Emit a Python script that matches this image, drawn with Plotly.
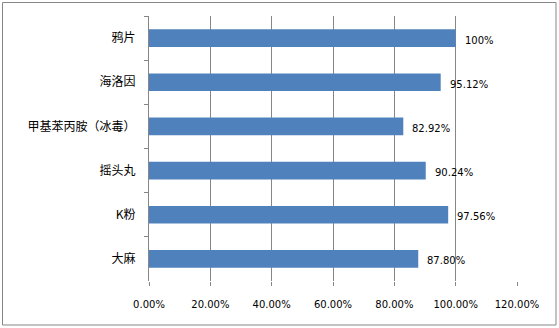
import plotly.graph_objects as go

categories = ["鸦片", "海洛因", "甲基苯丙胺（冰毒）", "摇头丸", "K粉", "大麻"]
values = [100, 95.12, 82.92, 90.24, 97.56, 87.80]
labels = ["100%", "95.12%", "82.92%", "90.24%", "97.56%", "87.80%"]
xticks = [0, 20, 40, 60, 80, 100, 120]
xticklabels = ["0.00%", "20.00%", "40.00%", "60.00%", "80.00%", "100.00%", "120.00%"]

W, H = 559, 328
L, R, T, B = 149, 517, 16, 281
pw, ph = R - L, B - T

fig = go.Figure()
fig.add_trace(go.Bar(
    x=values, y=categories, orientation="h",
    marker=dict(color="#4F81BD", line=dict(width=0)),
    width=0.4, hoverinfo="skip",
))

for c, v, t in zip(categories, values, labels):
    fig.add_annotation(x=v, y=c, text=t, showarrow=False, xanchor="left",
                       xshift=7, yshift=-2,
                       font=dict(family="DejaVu Sans", size=10, color="#000000"))

# outer border
fig.add_shape(type="rect", xref="paper", yref="paper",
              x0=(2.5 - L) / pw, x1=(556 - L) / pw,
              y0=(B - 325) / ph, y1=(B - 2.5) / ph,
              line=dict(color="#868686", width=1), fillcolor="rgba(0,0,0,0)")

fig.update_layout(
    width=W, height=H,
    margin=dict(l=L, r=W - R, t=T, b=H - B, pad=0),
    paper_bgcolor="white", plot_bgcolor="white",
    showlegend=False,
    xaxis=dict(range=[0, 120], tickvals=xticks, ticktext=xticklabels,
               showgrid=True, gridcolor="#868686", gridwidth=1,
               zeroline=False, showline=False,
               ticks="outside", ticklen=4, tickcolor="#868686",
               tickfont=dict(family="DejaVu Sans", size=10, color="#000000"),
               ticklabelstandoff=10, fixedrange=True),
    yaxis=dict(categoryorder="array", categoryarray=categories, autorange="reversed",
               showline=True, linecolor="#868686", linewidth=1,
               showgrid=False, zeroline=False,
               ticks="outside", ticklen=4, tickcolor="#868686",
               tickson="boundaries",
               tickfont=dict(family="Noto Sans CJK SC", size=12, color="#000000"),
               ticklabelstandoff=10, fixedrange=True),
)

fig.write_html("out.html")
